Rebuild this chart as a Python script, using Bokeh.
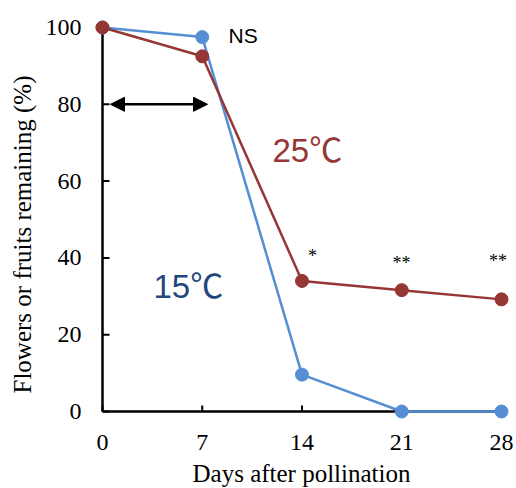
from bokeh.plotting import figure
from bokeh.models import Range1d, Arrow, NormalHead, ColumnDataSource
from bokeh.core.properties import value
from bokeh.embed import file_html
from bokeh.resources import INLINE

days = [0, 7, 14, 21, 28]
temp15 = [100, 97.5, 9.6, 0, 0]
temp25 = [100, 92.5, 34.0, 31.6, 29.2]
y_ticks = [0, 20, 40, 60, 80, 100]
x_label = "Days after pollination"
y_label = "Flowers or fruits remaining (%)"
sig_x = [14.74, 20.98, 27.75]
sig_y = [40.6, 38.8, 39.3]
sig_text = ["*", "**", "**"]

RED = "#953735"
BLUE = "#558ED5"
DARKBLUE = "#1F497D"
SERIF = "Liberation Serif"
SANS = "Liberation Sans, Noto Sans CJK JP"

W, H = 516, 488
X0_PX, Y0_PX = 102, 411     # canvas position of the origin
PX_X = 14.25                # px per day
PX_Y = 3.84                 # px per percent

p = figure(width=W, height=H, output_backend="svg", toolbar_location=None,
           x_range=Range1d(-X0_PX / PX_X, (W - X0_PX) / PX_X),
           y_range=Range1d(-(H - Y0_PX) / PX_Y, Y0_PX / PX_Y),
           min_border=0)
p.outline_line_color = None
p.grid.visible = False
p.xaxis.visible = False
p.yaxis.visible = False
p.background_fill_color = "white"

# axis lines and inward ticks
p.line([0, 28.2], [0, 0], line_color="black", line_width=2.5)
p.line([0, 0], [0, 100], line_color="black", line_width=2.5)
p.segment(x0=[0] * len(y_ticks), y0=y_ticks, x1=[7 / PX_X] * len(y_ticks), y1=y_ticks,
          line_color="black", line_width=2)
p.segment(x0=days, y0=[0] * len(days), x1=days, y1=[6 / PX_Y] * len(days),
          line_color="black", line_width=2)

# tick labels
p.text(x=[-21 / PX_X] * len(y_ticks), y=y_ticks, text=[str(v) for v in y_ticks],
       text_font=value(SERIF), text_font_size="24px", text_color="black",
       text_align="right", text_baseline="middle")
p.text(x=days, y=[-31 / PX_Y] * len(days), text=[str(d) for d in days],
       text_font=value(SERIF), text_font_size="24px", text_color="black",
       text_align="center", text_baseline="alphabetic")

# axis titles
p.text(x=[-80 / PX_X], y=[(411 - 234) / PX_Y], text=[y_label], angle=1.5708,
       text_font=value(SERIF), text_font_size="25px", text_color="black",
       text_align="center", text_baseline="middle")
p.text(x=[(301 - X0_PX) / PX_X], y=[-62 / PX_Y], text=[x_label],
       text_font=value(SERIF), text_font_size="25px", text_color="black",
       text_align="center", text_baseline="alphabetic")

# series
p.line(days, temp15, line_color=BLUE, line_width=2.5)
p.scatter(days, temp15, size=13, fill_color=BLUE, line_color=BLUE)
p.line(days, temp25, line_color=RED, line_width=2.5)
p.scatter(days, temp25, size=13, fill_color=RED, line_color=RED)

# double arrow
p.add_layout(Arrow(x_start=0.56, y_start=80, x_end=7.37, y_end=80,
                   line_color="black", line_width=2.5,
                   start=NormalHead(size=14, fill_color="black", line_color="black"),
                   end=NormalHead(size=14, fill_color="black", line_color="black")))

# annotations
p.text(x=[8.84], y=[97.8], text=["NS"], text_font=value(SANS), text_font_size="21px",
       text_color="black", text_baseline="middle", text_align="left")
p.text(x=[11.93], y=[67.9], text=["25℃"], text_font=value(SANS), text_font_size="33px",
       text_color=RED, text_baseline="middle", text_align="left")
p.text(x=[3.58], y=[32.6], text=["15℃"], text_font=value(SANS), text_font_size="33px",
       text_color=DARKBLUE, text_baseline="middle", text_align="left")
src = ColumnDataSource(dict(x=sig_x, y=sig_y, t=sig_text))
p.text(x="x", y="y", text="t", source=src, text_font=value(SERIF), text_font_size="18px",
       text_color="black", text_align="center", text_baseline="alphabetic")

open("out.html", "w").write(file_html(p, INLINE))
